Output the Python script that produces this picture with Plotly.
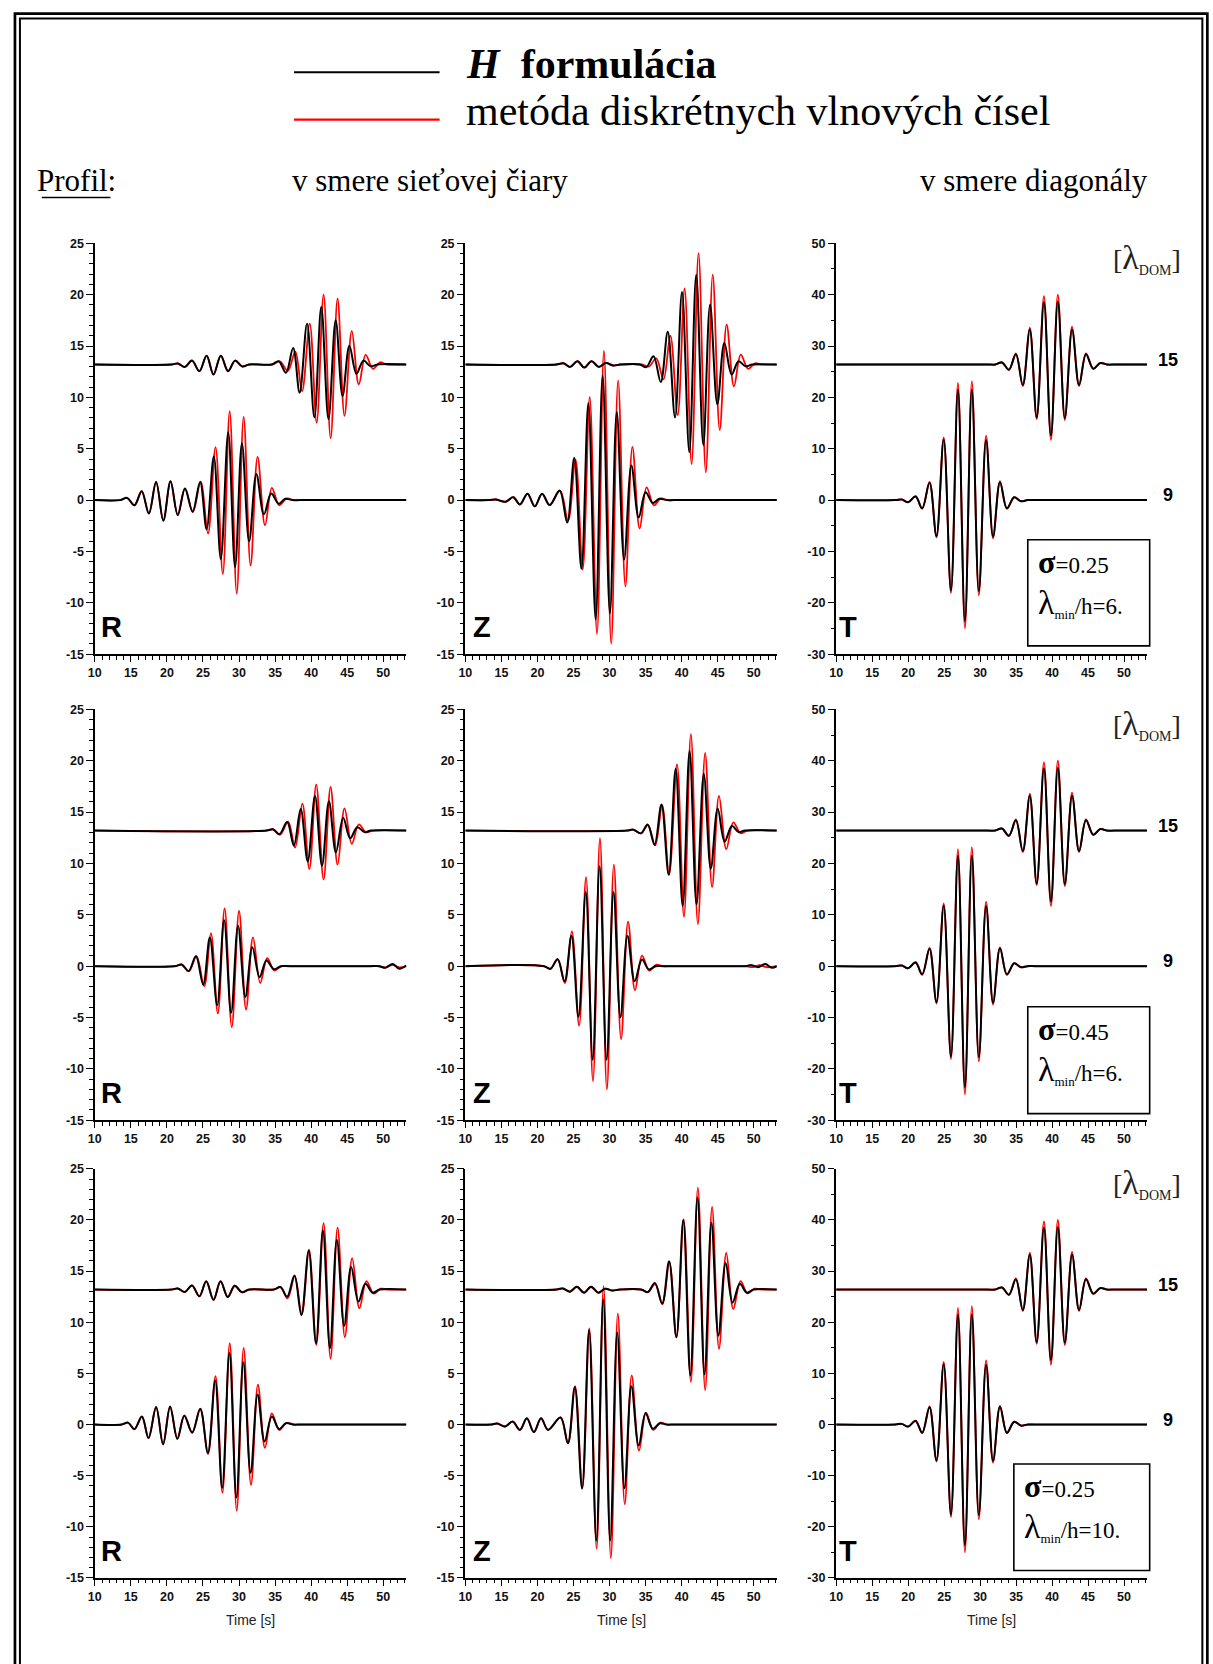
import plotly.graph_objects as go

# ---------------- data (time [s], amplitude) ----------------
# Row 1 : sigma=0.25, lambda_min/h=6
R1_LOW_H = [(10,0),(13.5,0),(14.46,0.22),(15.5,-0.5),(16.5,0.87),(17.5,-1.3),(18.5,1.77),(19.5,-2.0),(20.5,1.83),(21.5,-1.45),(22.5,1.13),(23.56,-1.13),(24.6,1.77),(25.5,-2.83),(26.5,4.25),(27.47,-5.73),(28.5,6.6),(29.45,-6.53),(30.4,5.53),(31.4,-4.0),(32.4,2.54),(33.45,-1.38),(34.46,0.64),(35.5,-0.35),(36.4,0.13),(37.4,0),(38.5,0),(52,0),(53.2,0)]
R1_LOW_D = [(10,0),(13.5,0),(14.46,0.22),(15.5,-0.5),(16.5,0.87),(17.5,-1.3),(18.5,1.77),(19.5,-2.0),(20.5,1.83),(21.5,-1.45),(22.5,1.13),(23.6,-1.15),(24.68,1.8),(25.7,-3.25),(26.74,5.15),(27.75,-7.18),(28.7,8.66),(29.68,-9.1),(30.64,8.1),(31.6,-6.37),(32.57,4.2),(33.6,-2.45),(34.55,1.2),(35.56,-0.5),(36.57,0.15),(37.6,0),(38.7,0),(52,0),(53.2,0)]
R1_UP_H = [(10,13.2),(20.6,13.2),(21.5,13.3),(22.5,12.97),(23.47,13.58),(24.5,12.55),(25.5,14.06),(26.46,12.23),(27.47,14.06),(28.48,12.55),(29.45,13.58),(30.46,13.0),(31.4,13.2),(34.5,13.2),(35.5,13.52),(36.5,12.39),(37.5,14.8),(38.4,10.46),(39.43,17.18),(40.44,8.05),(41.4,18.8),(42.4,7.88),(43.4,17.5),(44.35,10.14),(45.3,15.03),(46.28,12.3),(47.24,13.58),(48.25,13.03),(49.2,13.2),(53.2,13.2)]
R1_UP_D = [(10,13.2),(20.6,13.2),(21.5,13.3),(22.5,12.97),(23.47,13.58),(24.5,12.55),(25.5,14.06),(26.46,12.23),(27.47,14.06),(28.48,12.55),(29.45,13.58),(30.46,13.0),(31.4,13.2),(34.6,13.2),(35.65,13.5),(36.76,12.58),(37.8,14.45),(38.74,10.59),(39.8,17.18),(40.76,7.53),(41.72,20.0),(42.7,6.02),(43.66,19.6),(44.62,8.2),(45.63,16.48),(46.6,11.26),(47.56,14.13),(48.57,12.78),(49.54,13.42),(50.5,13.2),(53.2,13.2)]

Z1_LOW_H = [(10,0),(13.3,0),(14.2,0.06),(15.6,-0.16),(16.65,0.29),(17.57,-0.42),(18.62,0.61),(19.63,-0.61),(20.64,0.61),(21.7,-0.48),(23.07,0.93),(24.13,-2.19),(25.1,4.09),(26.1,-6.69),(27.06,9.46),(28.07,-11.62),(29.04,12.13),(30.05,-11.04),(31.0,8.59),(32.02,-5.79),(33.03,3.38),(34.04,-1.7),(35.0,0.77),(36.0,-0.29),(36.9,0.13),(37.9,0),(39.0,0),(52,0),(53.2,0)]
Z1_LOW_D = [(10,0),(13.3,0),(14.2,0.06),(15.6,-0.16),(16.65,0.29),(17.57,-0.42),(18.62,0.61),(19.63,-0.61),(20.64,0.61),(21.7,-0.48),(23.15,0.9),(24.25,-2.0),(25.28,3.93),(26.28,-6.76),(27.25,10.04),(28.26,-13.03),(29.22,14.55),(30.23,-14.0),(31.19,11.65),(32.2,-8.4),(33.17,5.18),(34.17,-2.77),(35.14,1.25),(36.15,-0.51),(37.1,0.16),(38.1,0),(39.2,0),(52,0),(53.2,0)]
Z1_UP_H = [(10,13.2),(22.6,13.2),(23.6,13.32),(24.54,12.97),(25.55,13.52),(26.5,12.9),(27.5,13.52),(28.5,12.97),(29.5,13.35),(30.5,13.1),(31.5,13.2),(34.2,13.2),(35.1,12.95),(36.1,14.0),(37.1,11.49),(38.07,16.38),(39.08,8.05),(40.05,20.27),(41.06,4.67),(42.02,21.95),(43.0,5.37),(43.94,19.05),(44.95,9.33),(45.92,15.29),(46.93,12.23),(47.89,13.52),(48.85,13.03),(49.8,13.2),(53.2,13.2)]
Z1_UP_D = [(10,13.2),(22.6,13.2),(23.6,13.32),(24.54,12.97),(25.55,13.52),(26.5,12.9),(27.5,13.52),(28.5,12.97),(29.5,13.35),(30.5,13.1),(31.5,13.2),(34.5,13.2),(35.45,13.0),(36.47,13.8),(37.48,11.75),(38.44,16.0),(39.45,8.27),(40.41,20.6),(41.38,3.51),(42.34,24.04),(43.35,2.7),(44.31,21.95),(45.28,6.82),(46.24,17.09),(47.25,11.07),(48.2,14.16),(49.22,12.78),(50.18,13.32),(51.1,13.2),(53.2,13.2)]

# Row 2 : sigma=0.45, lambda_min/h=6
R2_LOW_H = [(10,0),(21.1,0),(22.05,0.16),(23.0,-0.48),(24.02,0.97),(25.03,-1.8),(25.95,2.8),(26.97,-3.8),(27.93,4.47),(28.9,-4.54),(29.86,3.93),(30.87,-3.0),(31.84,1.83),(32.85,-1.06),(33.8,0.55),(34.83,-0.29),(35.8,0),(37.0,0),(48.2,0),(49.4,0),(50.3,-0.16),(51.3,0.22),(52.2,-0.25),(53.2,0.06)]
R2_LOW_D = [(10,0),(21.1,0),(22.05,0.16),(23.05,-0.5),(24.1,0.97),(25.17,-1.96),(26.1,3.22),(27.06,-4.6),(28.0,5.63),(28.99,-5.95),(30.0,5.37),(30.97,-4.22),(31.93,2.8),(32.94,-1.64),(33.9,0.77),(34.87,-0.42),(35.9,0),(37.0,0),(48.2,0),(49.4,0),(50.3,-0.12),(51.3,0.12),(52.2,-0.12),(53.2,0)]
R2_UP_H = [(10,13.2),(33.8,13.2),(34.7,13.32),(35.6,12.84),(36.67,14.03),(37.6,11.75),(38.55,15.29),(39.52,10.2),(40.53,16.57),(41.5,9.78),(42.46,16.06),(43.43,11.07),(44.44,14.45),(45.4,12.45),(46.4,13.52),(47.4,13.05),(48.3,13.2),(53.2,13.2)]
R2_UP_D = [(10,13.2),(33.8,13.2),(34.75,13.32),(35.7,12.8),(36.8,14.06),(37.77,11.55),(38.78,15.83),(39.75,9.46),(40.7,17.67),(41.72,8.43),(42.69,17.44),(43.66,9.88),(44.62,15.35),(45.63,11.9),(46.6,13.8),(47.6,13.03),(48.6,13.2),(53.2,13.2)]

Z2_LOW_H = [(10,0),(20.9,0),(21.8,-0.26),(22.8,0.68),(23.76,-1.48),(24.72,2.96),(25.69,-4.92),(26.7,7.21),(27.66,-9.1),(28.62,9.72),(29.59,-9.1),(30.55,7.21),(31.51,-4.99),(32.48,2.96),(33.49,-1.45),(34.5,0.64),(35.46,-0.32),(36.4,0),(37.5,0),(47.7,0),(48.8,0),(49.7,0.1),(50.6,-0.1),(51.6,0.2),(52.5,-0.15),(53.2,0)]
Z2_LOW_D = [(10,0),(20.9,0),(21.8,-0.26),(22.8,0.68),(23.8,-1.64),(24.77,3.38),(25.78,-5.79),(26.74,8.66),(27.7,-11.2),(28.67,12.45),(29.63,-12.0),(30.6,9.88),(31.6,-7.11),(32.57,4.34),(33.53,-2.35),(34.5,1.03),(35.5,-0.42),(36.45,0.13),(37.4,0),(38.5,0),(47.7,0),(48.8,0),(49.9,-0.1),(50.8,0.1),(51.8,-0.1),(53.2,0)]
Z2_UP_H = [(10,13.2),(32.4,13.2),(33.26,13.29),(34.36,12.93),(35.28,13.8),(36.24,11.81),(37.2,15.74),(38.2,8.91),(39.17,19.21),(40.14,5.86),(41.1,20.98),(42.06,6.02),(43.07,18.73),(44.04,9.49),(45.0,15.35),(45.96,12.13),(46.97,13.64),(47.9,13.05),(48.8,13.2),(53.2,13.2)]
Z2_UP_D = [(10,13.2),(32.4,13.2),(33.26,13.29),(34.36,12.93),(35.33,13.74),(36.33,11.75),(37.3,15.67),(38.26,8.91),(39.36,19.63),(40.32,4.8),(41.28,22.59),(42.25,4.09),(43.26,20.76),(44.22,7.69),(45.18,16.57),(46.19,11.39),(47.16,14.0),(48.17,12.94),(49.1,13.2),(53.2,13.2)]

# Row 3 : sigma=0.25, lambda_min/h=10
R3_LOW_H = [(10,0),(13.7,0),(14.6,0.19),(15.5,-0.45),(16.53,0.78),(17.45,-1.32),(18.5,1.68),(19.47,-1.91),(20.44,1.74),(21.45,-1.39),(22.41,0.87),(23.5,-0.78),(24.62,1.52),(25.68,-2.78),(26.69,4.3),(27.66,-6.17),(28.67,7.01),(29.63,-7.14),(30.6,6.1),(31.6,-4.72),(32.57,2.94),(33.54,-1.65),(34.55,0.78),(35.56,-0.45),(36.5,0.13),(37.5,0),(38.6,0),(52,0),(53.2,0)]
R3_LOW_D = [(10,0),(13.7,0),(14.6,0.19),(15.5,-0.45),(16.53,0.78),(17.45,-1.32),(18.5,1.72),(19.47,-1.95),(20.44,1.78),(21.45,-1.4),(22.41,0.9),(23.5,-0.8),(24.62,1.55),(25.7,-2.88),(26.74,4.72),(27.7,-6.66),(28.71,7.95),(29.68,-8.43),(30.64,7.5),(31.66,-5.91),(32.62,3.91),(33.59,-2.29),(34.55,1.1),(35.56,-0.52),(36.57,0.16),(37.6,0),(38.7,0),(52,0),(53.2,0)]
R3_UP_H = [(10,13.2),(20.6,13.2),(21.5,13.3),(22.5,12.97),(23.47,13.6),(24.5,12.54),(25.45,14.0),(26.46,12.2),(27.43,14.0),(28.44,12.47),(29.4,13.57),(30.4,12.93),(31.4,13.2),(34.8,13.2),(35.75,13.44),(36.67,12.5),(37.68,14.57),(38.64,10.69),(39.66,17.0),(40.67,7.95),(41.63,18.97),(42.6,7.46),(43.56,18.06),(44.57,9.66),(45.54,15.41),(46.55,12.02),(47.52,13.76),(48.53,12.89),(49.5,13.2),(53.2,13.2)]
R3_UP_D = [(10,13.2),(20.6,13.2),(21.5,13.3),(22.5,12.97),(23.47,13.6),(24.5,12.54),(25.45,14.0),(26.46,12.2),(27.43,14.0),(28.44,12.47),(29.4,13.57),(30.4,12.93),(31.4,13.2),(34.8,13.2),(35.75,13.44),(36.72,12.34),(37.72,14.5),(38.7,10.79),(39.7,17.09),(40.71,7.79),(41.72,19.68),(42.69,6.43),(43.66,19.26),(44.67,8.53),(45.68,16.28),(46.69,11.37),(47.66,14.02),(48.67,12.8),(49.63,13.28),(50.6,13.2),(53.2,13.2)]

Z3_LOW_H = [(10,0),(13.5,0),(14.45,0.1),(15.5,-0.19),(16.56,0.29),(17.57,-0.52),(18.53,0.61),(19.5,-0.74),(20.5,0.61),(21.47,-0.52),(23.2,0.68),(24.22,-1.84),(25.18,3.68),(26.19,-6.27),(27.16,9.24),(28.17,-11.34),(29.13,12.25),(30.09,-11.34),(31.06,9.0),(32.06,-6.24),(33.03,3.75),(34.04,-2.04),(35.0,1.1),(36.0,-0.42),(36.97,0.13),(37.9,0),(39.0,0),(52,0),(53.2,0)]
Z3_LOW_D = [(10,0),(13.5,0),(14.45,0.1),(15.5,-0.19),(16.56,0.29),(17.57,-0.52),(18.53,0.61),(19.5,-0.74),(20.5,0.61),(21.47,-0.52),(23.2,0.7),(24.25,-1.84),(25.22,3.75),(26.23,-6.17),(27.2,9.4),(28.21,-12.15),(29.17,13.54),(30.18,-13.05),(31.15,10.86),(32.11,-7.79),(33.07,4.81),(34.08,-2.55),(35.05,1.16),(36.06,-0.52),(37.06,0.19),(38.0,0),(39.1,0),(52,0),(53.2,0)]
Z3_UP_H = [(10,13.2),(22.6,13.2),(23.53,13.31),(24.5,12.99),(25.46,13.47),(26.47,12.89),(27.43,13.47),(28.44,12.89),(29.4,13.28),(30.4,13.1),(31.4,13.2),(34.4,13.2),(35.3,12.95),(36.28,13.83),(37.3,11.83),(38.26,15.96),(39.27,8.53),(40.23,20.0),(41.2,4.81),(42.2,22.2),(43.17,4.91),(44.13,19.74),(45.09,8.69),(46.1,15.8),(47.06,11.92),(48.07,13.76),(49.04,12.89),(50.0,13.2),(53.2,13.2)]
Z3_UP_D = [(10,13.2),(22.6,13.2),(23.53,13.31),(24.5,12.99),(25.46,13.47),(26.47,12.89),(27.43,13.47),(28.44,12.89),(29.4,13.28),(30.4,13.1),(31.4,13.2),(34.4,13.2),(35.35,12.95),(36.33,13.76),(37.33,11.76),(38.3,15.86),(39.27,8.53),(40.28,20.06),(41.28,4.17),(42.25,23.17),(43.26,3.36),(44.22,21.29),(45.18,7.4),(46.19,16.77),(47.16,11.28),(48.17,14.02),(49.13,12.83),(50.14,13.28),(51.1,13.2),(53.2,13.2)]

# T component (diagonal profile) - practically identical in the three rows
T_LOW_H = [(10,0),(18.2,0),(19.1,0.13),(20.0,-0.4),(21.03,0.7),(21.95,-1.6),(22.97,3.4),(23.93,-7.0),(24.94,11.8),(25.95,-17.6),(26.92,21.5),(27.89,-23.6),(28.85,21.5),(29.82,-17.7),(30.83,11.7),(31.8,-7.1),(32.76,3.5),(33.72,-1.6),(34.74,0.55),(35.66,-0.2),(36.6,0),(37.7,0),(52,0),(53.2,0)]
T_LOW_D = [(10,0),(18.2,0),(19.1,0.13),(20.0,-0.4),(21.03,0.77),(21.95,-1.67),(22.97,3.54),(23.93,-7.27),(24.94,12.23),(25.95,-18.08),(26.92,22.8),(27.89,-24.97),(28.85,23.17),(29.82,-18.53),(30.83,12.55),(31.8,-7.46),(32.76,3.67),(33.72,-1.67),(34.74,0.58),(35.66,-0.2),(36.6,0),(37.7,0),(52,0),(53.2,0)]
T_UP_H = [(10,26.4),(31.0,26.4),(32.1,26.4),(33.03,26.8),(34.0,25.4),(34.97,28.4),(35.93,22.4),(36.9,33.2),(37.86,16.1),(38.87,38.5),(39.84,12.6),(40.8,38.6),(41.77,16.0),(42.78,33.2),(43.75,22.4),(44.71,28.4),(45.72,25.6),(46.7,26.7),(47.6,26.4),(48.7,26.4),(53.2,26.4)]
T_UP_D = [(10,26.4),(31.0,26.4),(32.1,26.4),(33.03,26.83),(34.0,25.35),(34.97,28.57),(35.93,22.2),(36.9,33.6),(37.86,15.77),(38.87,39.7),(39.84,11.71),(40.8,40.0),(41.77,15.57),(42.78,33.78),(43.75,22.2),(44.71,28.57),(45.72,25.55),(46.7,26.7),(47.6,26.4),(48.7,26.4),(53.2,26.4)]

# tick labels / categories
X_TICKS = [10, 15, 20, 25, 30, 35, 40, 45, 50]
Y_TICKS_RZ = [-15, -10, -5, 0, 5, 10, 15, 20, 25]
Y_TICKS_T = [-30, -20, -10, 0, 10, 20, 30, 40, 50]
COMPONENTS = ["R", "Z", "T"]
DOM_LABELS = ["15", "9"]
SIGMA_VALUES = ["0.25", "0.45", "0.25"]
LAMBDA_H = ["6.", "6.", "10."]

# ---------------- layout geometry (pixels) ----------------
W, H = 1213, 1664
COLS_PX = [(88.3, 401.7), (461.0, 774.3), (834.0, 1146.7)]
ROWS_PX = [(238.3, 652.7), (708.3, 1122.7), (1171.7, 1584.3)]
BOX_PX = [(1026.7, 537.3, 1149.3, 644.3), (1026.7, 1008.3, 1149.3, 1116.0), (1012.7, 1469.3, 1149.3, 1576.7)]
DX, DY = -7, -5   # visual correction of annotation boxes (padding / descender space)

def fx(px):
    return px / W

def fy(py):
    return 1 - py / H

SERIF = "Liberation Serif, Times New Roman, serif"
SANS = "Liberation Sans, Arial, sans-serif"

panels = [
    [(R1_LOW_H, R1_LOW_D, R1_UP_H, R1_UP_D), (Z1_LOW_H, Z1_LOW_D, Z1_UP_H, Z1_UP_D), (T_LOW_H, T_LOW_D, T_UP_H, T_UP_D)],
    [(R2_LOW_H, R2_LOW_D, R2_UP_H, R2_UP_D), (Z2_LOW_H, Z2_LOW_D, Z2_UP_H, Z2_UP_D), (T_LOW_H, T_LOW_D, T_UP_H, T_UP_D)],
    [(R3_LOW_H, R3_LOW_D, R3_UP_H, R3_UP_D), (Z3_LOW_H, Z3_LOW_D, Z3_UP_H, Z3_UP_D), (T_LOW_H, T_LOW_D, T_UP_H, T_UP_D)],
]

fig = go.Figure()
layout = dict(
    width=W, height=H, autosize=False,
    margin=dict(l=0, r=0, t=0, b=0),
    paper_bgcolor="white", plot_bgcolor="white",
    showlegend=False,
)
annotations = []
shapes = []

n = 0
for r in range(3):
    for c in range(3):
        n += 1
        xa = "x" if n == 1 else f"x{n}"
        ya = "y" if n == 1 else f"y{n}"
        low_h, low_d, up_h, up_d = panels[r][c]
        for pts, color, w in [(low_d, "#ff0000", 1.8), (up_d, "#ff0000", 1.8),
                              (low_h, "#000000", 2.0), (up_h, "#000000", 2.0)]:
            fig.add_trace(go.Scatter(
                x=[p[0] for p in pts], y=[p[1] for p in pts], mode="lines",
                line=dict(color=color, width=w, shape="spline", smoothing=1.0),
                xaxis=xa, yaxis=ya, hoverinfo="skip", showlegend=False))
        x0, x1 = COLS_PX[c]
        y0, y1 = ROWS_PX[r]
        is_t = (c == 2)
        yt = Y_TICKS_T if is_t else Y_TICKS_RZ
        layout["xaxis" if n == 1 else f"xaxis{n}"] = dict(
            domain=[fx(x0), fx(x1)], anchor=ya, range=[10, 53.2],
            showline=True, linecolor="black", linewidth=1.6, mirror=False,
            ticks="outside", ticklen=6, tickwidth=1.4, tickcolor="black",
            tickmode="array", tickvals=X_TICKS, ticktext=[str(v) for v in X_TICKS],
            minor=dict(ticks="outside", ticklen=3.5, tickwidth=1, tickcolor="black", dtick=1, tick0=10),
            showgrid=False, zeroline=False,
            tickfont=dict(family=SANS, size=12.5, color="#111111", weight="bold"),
            fixedrange=True)
        layout["yaxis" if n == 1 else f"yaxis{n}"] = dict(
            domain=[fy(y1), fy(y0)], anchor=xa,
            range=[-30, 50] if is_t else [-15, 25],
            showline=True, linecolor="black", linewidth=1.6, mirror=False,
            ticks="outside", ticklen=6.5, tickwidth=1.4, tickcolor="black",
            tickmode="array", tickvals=yt, ticktext=[str(v) for v in yt],
            minor=dict(ticks="outside", ticklen=3.5, tickwidth=1, tickcolor="black",
                       dtick=5 if is_t else 1, tick0=0),
            showgrid=False, zeroline=False,
            tickfont=dict(family=SANS, size=12.5, color="#111111", weight="bold"),
            fixedrange=True)
        # component letter
        offs = [12, 14, 9][c]
        annotations.append(dict(
            x=fx(x0 + offs - 8), y=fy(y1 - 23 - 4), xref="paper", yref="paper",
            xanchor="left", yanchor="middle", showarrow=False,
            text=f"<b>{COMPONENTS[c]}</b>",
            font=dict(family=SANS, size=29, color="black")))
        if r == 2:
            annotations.append(dict(
                x=fx((x0 + x1) / 2), y=fy(1627), xref="paper", yref="paper",
                xanchor="center", yanchor="middle", showarrow=False,
                text="Time [s]", font=dict(family=SANS, size=14, color="#222222")))
        if is_t:
            for lab, yv in zip(DOM_LABELS, [26.4, 0]):
                annotations.append(dict(
                    x=fx(1167.5), y=yv, xref="paper", yref=ya, yshift=5,
                    xanchor="center", yanchor="middle", showarrow=False,
                    text=f"<b>{lab}</b>", font=dict(family=SANS, size=18, color="black")))
            annotations.append(dict(
                x=fx(1146.5), y=fy(y0 + 23 - 8), xref="paper", yref="paper",
                xanchor="center", yanchor="middle", showarrow=False,
                text='[<span style="font-size:34px">λ</span><sub><span style="font-size:14px">DOM</span></sub>]',
                font=dict(family=SERIF, size=28, color="#222222")))
            bx0, by0, bx1, by1 = BOX_PX[r]
            shapes.append(dict(type="rect", xref="paper", yref="paper",
                               x0=fx(bx0), x1=fx(bx1), y0=fy(by1), y1=fy(by0),
                               line=dict(color="black", width=1.6), fillcolor="rgba(0,0,0,0)"))
            annotations.append(dict(
                x=fx(bx0 + 13 - 5), y=fy(by0 + 27 + DY), xref="paper", yref="paper",
                xanchor="left", yanchor="middle", showarrow=False,
                text=f'<span style="font-size:32px"><b>σ</b></span>={SIGMA_VALUES[r]}',
                font=dict(family=SERIF, size=23, color="black")))
            annotations.append(dict(
                x=fx(bx0 + 13 - 5), y=fy(by0 + 69 + DY), xref="paper", yref="paper",
                xanchor="left", yanchor="middle", showarrow=False,
                text=f'<span style="font-size:34px">λ</span><sub><span style="font-size:13px">min</span></sub>/h={LAMBDA_H[r]}',
                font=dict(family=SERIF, size=23, color="black")))

# ---------------- header texts ----------------
def head(xpx, ypx, text, size, **kw):
    return dict(x=fx(xpx + DX), y=fy(ypx + DY), xref="paper", yref="paper",
                xanchor="left", yanchor="middle", showarrow=False, text=text,
                font=dict(family=SERIF, size=size, color="black"), **kw)

annotations += [
    head(467, 62, "<b><i>H</i></b>\u00a0 <b>formulácia</b>", 42),
    head(467, 110, "metóda diskrétnych vlnových čísel", 42),
    head(35, 180, "Profil:", 31),
    head(292, 180, "v smere sieťovej čiary", 31),
    head(923, 180, "v smere diagonály", 31),
]

# legend sample lines, underline, double frame
shapes += [
    dict(type="line", xref="paper", yref="paper", x0=fx(288.7), x1=fx(435.1), y0=fy(65.8), y1=fy(65.8),
         line=dict(color="black", width=2.2)),
    dict(type="line", xref="paper", yref="paper", x0=fx(288.7), x1=fx(435.1), y0=fy(113.6), y1=fy(113.6),
         line=dict(color="#ff0000", width=2.2)),
    dict(type="line", xref="paper", yref="paper", x0=fx(35), x1=fx(104), y0=fy(192), y1=fy(192),
         line=dict(color="black", width=1.5)),
    dict(type="path", xref="paper", yref="paper",
         path=f"M {fx(8)} {fy(1700)} L {fx(8)} {fy(6.7)} L {fx(1207.3)} {fy(6.7)} L {fx(1207.3)} {fy(1700)}",
         line=dict(color="black", width=2.7)),
    dict(type="path", xref="paper", yref="paper",
         path=f"M {fx(13)} {fy(1700)} L {fx(13)} {fy(11.7)} L {fx(1202.3)} {fy(11.7)} L {fx(1202.3)} {fy(1700)}",
         line=dict(color="black", width=2)),
]

layout["annotations"] = annotations
layout["shapes"] = shapes
fig.update_layout(**layout)
fig.write_html("out.html")
